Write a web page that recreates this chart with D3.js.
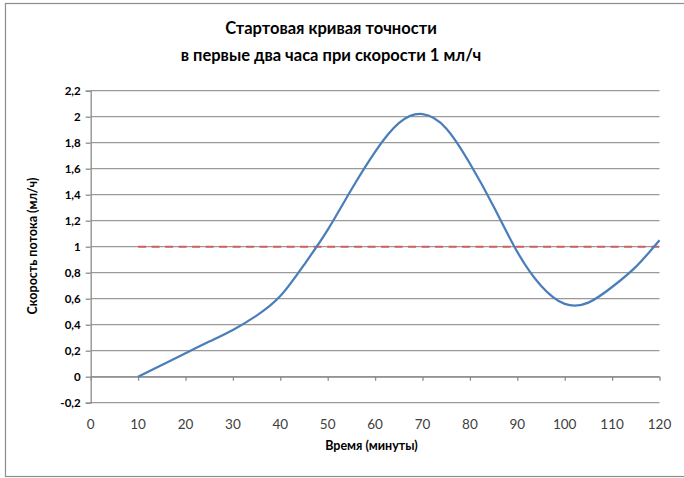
<!DOCTYPE html>
<html><head><meta charset="utf-8">
<script src="https://cdn.jsdelivr.net/npm/d3@7"></script>
<style>body{margin:0;background:#fff}svg{display:block}</style>
</head><body>
<script>
const titleLines = ["Стартовая кривая точности", "в первые два часа при скорости 1 мл/ч"];
const xTitle = "Время (минуты)";
const yTitle = "Скорость потока (мл/ч)";
const minutes = [10, 15, 20, 25, 30, 35, 40, 45, 50, 55, 60, 65, 70, 75, 80, 85, 90, 95, 100, 105, 110, 115, 120];
const flowRate = [0, 0.09, 0.18, 0.27, 0.36, 0.47, 0.62, 0.86, 1.13, 1.44, 1.73, 1.95, 2.02, 1.91, 1.64, 1.31, 0.96, 0.7, 0.56, 0.57, 0.69, 0.845, 1.05];
const targetMinutes = [10, 120];
const targetRate = [1, 1];
const xTicks = [0, 10, 20, 30, 40, 50, 60, 70, 80, 90, 100, 110, 120];
const yTicks = [-0.2, 0, 0.2, 0.4, 0.6, 0.8, 1, 1.2, 1.4, 1.6, 1.8, 2, 2.2];

const W = 684, H = 478;
const svg = d3.select("body").append("svg").attr("width", W).attr("height", H);
const font = "Lato, 'Open Sans', sans-serif";

// frame
svg.append("rect").attr("x", 5.5).attr("y", 3.5).attr("width", 690).attr("height", 473)
  .attr("fill", "#fff").attr("stroke", "#8c8c8c").attr("stroke-width", 1.2);

const x = d3.scaleLinear().domain([0, 120]).range([90.7, 659.5]);
const y = d3.scaleLinear().domain([-0.2, 2.2]).range([402.7, 90.7]);
const fmt = v => String(Math.round(v * 10) / 10).replace(".", ",");

// gridlines
svg.append("g").selectAll("line").data(yTicks).join("line")
  .attr("x1", x(0)).attr("x2", x(120))
  .attr("y1", d => y(d)).attr("y2", d => y(d))
  .attr("stroke", "#9a9a9a").attr("stroke-width", 1.3);

// y axis
const yAxis = d3.axisLeft(y).tickValues(yTicks).tickFormat(fmt).tickSize(5).tickPadding(5);
const gy = svg.append("g").attr("transform", `translate(${x(0)},0)`).call(yAxis);
gy.select(".domain").attr("stroke", "#8c8c8c").attr("stroke-width", 1.3);
gy.selectAll(".tick line").attr("stroke", "#8c8c8c").attr("stroke-width", 1.3);
gy.selectAll(".tick text").attr("font-family", font).attr("font-size", 11.5)
  .attr("font-weight", "bold").attr("fill", "#000");

// x axis line at y=0 with ticks
const xAxis = d3.axisBottom(x).tickValues(xTicks).tickFormat("").tickSize(4).tickSizeOuter(0);
const gx = svg.append("g").attr("transform", `translate(0,${y(0)})`).call(xAxis);
gx.select(".domain").attr("stroke", "#8c8c8c").attr("stroke-width", 1.3);
gx.selectAll(".tick line").attr("stroke", "#8c8c8c").attr("stroke-width", 1.3);

// x tick labels at the bottom
svg.append("g").selectAll("text").data(xTicks).join("text")
  .attr("x", d => x(d)).attr("y", 424).attr("dy", "0.35em")
  .attr("text-anchor", "middle").attr("font-family", font).attr("font-size", 13.5)
  .attr("fill", "#404040").text(d => d);

// target line (dashed red)
const line = d3.line().x((d, i) => x(targetMinutes[i])).y(d => y(d));
svg.append("path").datum(targetRate).attr("d", line)
  .attr("fill", "none").attr("stroke", "#d0615e").attr("stroke-width", 2)
  .attr("stroke-dasharray", "8,5.5");

// flow curve
const smooth = d3.line().x((d, i) => x(minutes[i])).y(d => y(d)).curve(d3.curveNatural);
svg.append("path").datum(flowRate).attr("d", smooth)
  .attr("fill", "none").attr("stroke", "#4a7ebb").attr("stroke-width", 2.25);

// titles
svg.append("g").selectAll("text").data(titleLines).join("text")
  .attr("x", 331).attr("y", (d, i) => 28 + i * 27).attr("dy", "0.35em")
  .attr("text-anchor", "middle").attr("font-family", font).attr("font-size", 16.5)
  .attr("font-weight", "bold").attr("fill", "#000").text(d => d);

svg.append("text").attr("x", 371.5).attr("y", 445.5).attr("dy", "0.35em")
  .attr("text-anchor", "middle").attr("font-family", font).attr("font-size", 12.5)
  .attr("font-weight", "bold").attr("fill", "#000").text(xTitle);

svg.append("text").attr("transform", "translate(33,246) rotate(-90)").attr("dy", "0.35em")
  .attr("text-anchor", "middle").attr("font-family", font).attr("font-size", 12.5)
  .attr("font-weight", "bold").attr("fill", "#000").text(yTitle);
</script>
</body></html>
